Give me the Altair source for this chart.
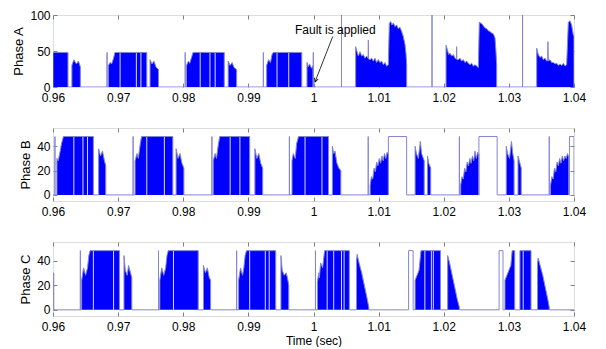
import altair as alt
import pandas as pd

T_MIN, T_MAX = 0.96, 1.04
x_ticks = [0.96, 0.97, 0.98, 0.99, 1.0, 1.01, 1.02, 1.03, 1.04]

# ---------------- Phase A ----------------
a_blocks = [
    [(0.9600, 48), (0.9623, 48)],
    [(0.9629, 30), (0.9632, 38), (0.9636, 32), (0.9639, 36), (0.9642, 28)],
    [(0.9685, 30), (0.9688, 34), (0.9690, 32), (0.9693, 40), (0.9695, 48), (0.9744, 48)],
    [(0.9749, 38), (0.9752, 32), (0.9755, 36), (0.9758, 28), (0.9762, 24)],
    [(0.9805, 30), (0.9808, 36), (0.9810, 33), (0.9813, 42), (0.9815, 48), (0.9863, 48)],
    [(0.9869, 36), (0.9872, 30), (0.9875, 34), (0.9878, 27), (0.9882, 24)],
    [(0.9928, 30), (0.9931, 38), (0.9934, 34), (0.9936, 44), (0.9938, 48), (0.9982, 48)],
    [(0.9990, 34), (0.9992, 28), (0.9994, 32), (0.9997, 26), (0.99995, 30)],
    [(1.00647, 56), (1.00689, 43), (1.00714, 49), (1.00740, 43), (1.00765, 45), (1.00791, 40),
     (1.00816, 43), (1.00838, 40), (1.00842, 65), (1.00846, 39), (1.00868, 38), (1.00893, 40),
     (1.00919, 36), (1.00944, 40), (1.00970, 34), (1.00995, 38), (1.01021, 34), (1.01047, 36),
     (1.01072, 31), (1.01098, 34), (1.01123, 29), (1.01149, 31), (1.01164, 88), (1.01185, 91),
     (1.01205, 86), (1.01226, 89), (1.01251, 84), (1.01277, 86), (1.01302, 81), (1.01328, 83),
     (1.01354, 77), (1.01379, 70), (1.01405, 59), (1.01420, 47), (1.01431, 30)],
    [(1.02035, 58), (1.02055, 52), (1.02076, 45), (1.02096, 47), (1.02122, 43), (1.02147, 45),
     (1.02173, 40), (1.02194, 39), (1.02198, 56), (1.02202, 38), (1.02224, 38), (1.02250, 40),
     (1.02275, 36), (1.02301, 38), (1.02326, 34), (1.02352, 36), (1.02377, 33), (1.02403, 31),
     (1.02429, 33), (1.02454, 29), (1.02480, 31), (1.02505, 29), (1.02531, 27), (1.02546, 90),
     (1.02582, 88), (1.02608, 85), (1.02633, 82), (1.02659, 81), (1.02684, 78), (1.02710, 77),
     (1.02735, 75), (1.02761, 74), (1.02787, 68), (1.02800, 52), (1.02813, 30)],
    [(1.03427, 54), (1.03452, 45), (1.03478, 41), (1.03503, 43), (1.03529, 38), (1.03555, 40),
     (1.03580, 36), (1.03596, 37), (1.03600, 63), (1.03604, 36), (1.03632, 38), (1.03657, 34),
     (1.03683, 34), (1.03708, 32), (1.03734, 33), (1.03760, 30), (1.03785, 32), (1.03810, 30),
     (1.03836, 33), (1.03862, 29), (1.03887, 31), (1.03913, 90), (1.03939, 92), (1.03964, 86),
     (1.03990, 72), (1.04000, 70)],
]
a_pulses = []
a_spikes = [(0.9683, 48), (0.9803, 48), (0.9923, 48), (0.99997, 48),
            (1.0043, 100), (1.0182, 100), (1.0321, 100)]
a_gaps = [0.9703, 0.9728, 0.9735, 0.9826, 0.9841, 0.9849, 0.9944, 0.9962]

# ---------------- Phase B ----------------
b_blocks = [
    [(0.9606, 30), (0.9608, 28), (0.9611, 36), (0.9613, 42), (0.9616, 48), (0.9662, 48)],
    [(0.9670, 38), (0.9673, 32), (0.9676, 36), (0.9679, 28), (0.9681, 24)],
    [(0.9726, 28), (0.9729, 34), (0.9731, 30), (0.9734, 42), (0.9736, 48), (0.9784, 48)],
    [(0.9789, 38), (0.9792, 30), (0.9795, 34), (0.9798, 26), (0.9801, 22)],
    [(0.9846, 28), (0.9849, 34), (0.9851, 30), (0.9854, 42), (0.9856, 48), (0.9902, 48)],
    [(0.9910, 38), (0.9913, 30), (0.9916, 34), (0.9919, 26), (0.9922, 22)],
    [(0.9967, 28), (0.9969, 34), (0.9972, 30), (0.9974, 42), (0.9977, 48), (1.0023, 48)],
    [(1.0029, 40), (1.0031, 34), (1.0033, 36), (1.0036, 26), (1.0039, 22), (1.0042, 20)],
    [(1.0087, 8), (1.0089, 15), (1.0091, 13), (1.0093, 22), (1.0095, 19), (1.0097, 27),
     (1.0099, 24), (1.0101, 30), (1.0103, 26), (1.0105, 32), (1.0107, 28), (1.0109, 34),
     (1.0111, 30), (1.0113, 35), (1.0115, 33)],
    [(1.0156, 40), (1.0158, 34), (1.0161, 30), (1.0164, 44), (1.0166, 34), (1.0170, 28)],
    [(1.0175, 32), (1.0177, 26), (1.0180, 22)],
    [(1.0226, 8), (1.0228, 15), (1.0230, 13), (1.0232, 22), (1.0234, 19), (1.0236, 27),
     (1.0238, 24), (1.0240, 30), (1.0242, 26), (1.0244, 32), (1.0246, 28), (1.0248, 36),
     (1.0250, 30), (1.0252, 35), (1.0254, 33)],
    [(1.0296, 40), (1.0298, 34), (1.0301, 30), (1.0304, 44), (1.0306, 34), (1.0308, 28)],
    [(1.0314, 32), (1.0317, 26), (1.0319, 22)],
    [(1.0364, 8), (1.0366, 15), (1.0368, 13), (1.0370, 22), (1.0372, 19), (1.0374, 27),
     (1.0376, 24), (1.0378, 30), (1.0380, 26), (1.0382, 32), (1.0384, 28), (1.0386, 32),
     (1.0388, 30), (1.0390, 34), (1.0392, 31)],
]
b_pulses = [(1.0115, 1.0143, 48), (1.0254, 1.0282, 48), (1.0393, 1.0400, 48)]
b_spikes = [(0.9603, 48), (0.9723, 48), (0.9844, 48), (0.9963, 48),
            (1.0084, 48), (1.0224, 48), (1.0362, 48)]
b_gaps = [0.9632, 0.9646, 0.9653, 0.9744, 0.9771, 0.9872, 0.9887, 0.9987, 1.0013]

# ---------------- Phase C ----------------
c_blocks = [
    [(0.9644, 24), (0.9647, 34), (0.9650, 28), (0.9653, 34), (0.9655, 44), (0.9657, 48), (0.9702, 48)],
    [(0.9709, 44), (0.9711, 32), (0.9714, 28), (0.9716, 36), (0.9719, 30), (0.9721, 26)],
    [(0.9764, 24), (0.9767, 34), (0.9770, 28), (0.9773, 34), (0.9775, 44), (0.9777, 48), (0.9823, 48)],
    [(0.9831, 36), (0.9834, 30), (0.9837, 34), (0.9840, 26), (0.9842, 24)],
    [(0.9885, 24), (0.9888, 34), (0.9891, 28), (0.9893, 34), (0.9895, 44), (0.9897, 48), (0.9942, 48)],
    [(0.9950, 44), (0.9952, 32), (0.9955, 28), (0.9958, 30), (0.9960, 26), (0.9962, 20)],
    [(1.0006, 22), (1.0008, 30), (1.0009, 26), (1.0011, 38), (1.0014, 34), (1.0017, 48), (1.0055, 48)],
    [(1.0066, 40), (1.0067, 45), (1.0070, 38), (1.0074, 30), (1.0078, 20), (1.0082, 10), (1.0085, 2)],
    [(1.0156, 24), (1.0159, 28), (1.0162, 32), (1.0165, 48), (1.0195, 48)],
    [(1.0206, 44), (1.0209, 38), (1.0213, 28), (1.0217, 18), (1.0221, 8), (1.0224, 2)],
    [(1.0294, 24), (1.0297, 28), (1.0300, 32), (1.0303, 36), (1.0305, 48), (1.0309, 48)],
    [(1.0317, 48), (1.0334, 48)],
    [(1.0344, 38), (1.0345, 42), (1.0348, 36), (1.0352, 28), (1.0356, 18), (1.0360, 8), (1.0362, 2)],
]
c_pulses = [(1.0146, 1.0153, 48), (1.0285, 1.0291, 48)]
c_spikes = [(0.9601, 30), (0.9642, 48), (0.9762, 48), (0.9882, 48), (1.0003, 48)]
c_gaps = [0.9662, 0.9693, 0.9785, 0.9902, 0.9926, 0.9932, 1.0021, 1.0031, 1.0043, 1.0047,
          1.0171, 1.0181, 1.0184, 1.0322]
FULL_LEVEL = 48

# annotation
note_text = "Fault is applied"
note_pos = (0.99716, 73)
arrow_start = (1.00295, 70)
arrow_end = (1.00023, 7)

FILL = "#0000ff"
EDGE = "#8585d5"
FRAME = "#808080"
FONT = "Liberation Sans"


def fill_df(blocks):
    rows = []
    for bi, blk in enumerate(blocks):
        for t, v in blk:
            rows.append({"b": bi, "t": t, "v": v})
    return pd.DataFrame(rows)


def outline_df(blocks, pulses, spikes):
    events = []
    for blk in blocks:
        events.append((blk[0][0], list(blk)))
    for t0, t1, h in pulses:
        events.append((t0, [(t0, h), (t1, h)]))
    for t, h in spikes:
        events.append((t, [(t, h)]))
    events.sort(key=lambda e: e[0])
    pts = [(T_MIN, 0)]
    for _, p in events:
        pts.append((p[0][0], 0))
        pts.extend(p)
        pts.append((p[-1][0], 0))
    pts.append((T_MAX, 0))
    return pd.DataFrame({"i": range(len(pts)), "t": [p[0] for p in pts], "v": [p[1] for p in pts]})


def gaps_df(gaps):
    return pd.DataFrame({"t": gaps, "lo": [0] * len(gaps), "hi": [FULL_LEVEL] * len(gaps)})


def panel(blocks, pulses, spikes, gaps, ydomain, yticks, ytitle, height, xtitle=None, extra=None):
    xs = alt.Scale(domain=[T_MIN, T_MAX], nice=False, zero=False)
    ys = alt.Scale(domain=ydomain, nice=False, zero=False)
    common = dict(grid=False, domain=False, tickColor=FRAME, tickSize=4, offset=-4,
                  labelFont=FONT, labelFontSize=12, labelColor="#000000", labelFlush=False,
                  titleFont=FONT, titleFontWeight="normal", titleColor="#000000")
    xbot_kw = dict(values=x_ticks, format=".3~g", orient="bottom", labelPadding=5, **common)
    if xtitle:
        xbot_kw.update(title=xtitle, titleFontSize=12, titlePadding=3)
    else:
        xbot_kw.update(title=None)
    xbot = alt.Axis(**xbot_kw)
    xtop = alt.Axis(values=x_ticks, orient="top", labels=False, title=None, **common)
    yleft = alt.Axis(values=yticks, orient="left", labelPadding=3, title=ytitle,
                     titleFontSize=13, titlePadding=4, **common)
    yright = alt.Axis(values=yticks, orient="right", labels=False, title=None, **common)

    area = alt.Chart(fill_df(blocks)).mark_area(color=FILL, clip=True, strokeWidth=0).encode(
        x=alt.X("t:Q", scale=xs, axis=xbot),
        y=alt.Y("v:Q", scale=ys, axis=yleft),
        y2=alt.datum(0),
        detail="b:N",
    )
    layers = [area]
    if len(gaps):
        rules = alt.Chart(gaps_df(gaps)).mark_rule(color="#ffffff", strokeWidth=1, opacity=0.85).encode(
            x=alt.X("t:Q", scale=xs, axis=None),
            y=alt.Y("lo:Q", scale=ys, axis=None),
            y2="hi:Q",
        )
        layers.append(rules)
    line = alt.Chart(outline_df(blocks, pulses, spikes)).mark_line(
        color=EDGE, strokeWidth=1, clip=True, interpolate="linear").encode(
        x=alt.X("t:Q", scale=xs, axis=xtop),
        y=alt.Y("v:Q", scale=ys, axis=yright),
        order="i:Q",
    )
    layers.append(line)
    if extra:
        layers.extend(extra(xs, ys))
    return alt.layer(*layers).resolve_axis(x="independent", y="independent").properties(
        width=521, height=height)


def annotation(xs, ys):
    txt = alt.Chart(pd.DataFrame({"t": [note_pos[0]], "v": [note_pos[1]], "s": [note_text]})).mark_text(
        align="left", baseline="alphabetic", font=FONT, fontSize=12, color="#000000").encode(
        x=alt.X("t:Q", scale=xs, axis=None), y=alt.Y("v:Q", scale=ys, axis=None), text="s:N")
    arr = pd.DataFrame({"t": [arrow_start[0], arrow_end[0]], "v": [arrow_start[1], arrow_end[1]]})
    shaft = alt.Chart(arr).mark_line(color="#000000", strokeWidth=0.8).encode(
        x=alt.X("t:Q", scale=xs, axis=None), y=alt.Y("v:Q", scale=ys, axis=None))
    head = alt.Chart(arr.iloc[[1]]).mark_point(
        shape="M -0.5 -1 L 0 0 L 0.5 -1", angle=21, size=60, filled=False,
        color="#000000", strokeWidth=0.9, opacity=1).encode(
        x=alt.X("t:Q", scale=xs, axis=None), y=alt.Y("v:Q", scale=ys, axis=None))
    return [shaft, head, txt]


pa = panel(a_blocks, a_pulses, a_spikes, a_gaps, [0, 100], [0, 50, 100], "Phase A", 72, extra=annotation)
pb = panel(b_blocks, b_pulses, b_spikes, b_gaps, [-5, 55], [0, 20, 40], "Phase B", 73)
pc = panel(c_blocks, c_pulses, c_spikes, c_gaps, [-5, 55], [0, 20, 40], "Phase C", 74, xtitle="Time (sec)")

chart = alt.vconcat(pa, pb, pc, spacing=41, bounds="flush").properties(
    padding={"left": 4, "top": 0, "right": 0, "bottom": 0}
).configure_view(stroke=FRAME, strokeWidth=1).configure(background="#ffffff")

chart.save("out.html", embed_options={"renderer": "svg", "actions": False})
